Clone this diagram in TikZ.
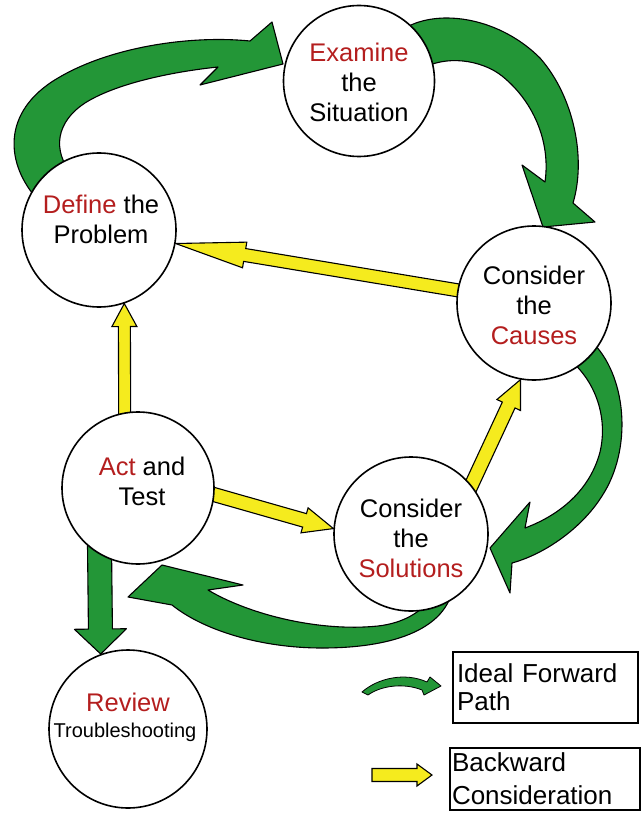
\documentclass[tikz,border=0pt]{standalone}
\usepackage{fontspec}
\setmainfont{Liberation Sans}
\usetikzlibrary{calc,backgrounds}
\definecolor{tgreen}{RGB}{35,150,55}
\definecolor{tyellow}{RGB}{245,235,30}
\definecolor{tred}{RGB}{180,30,30}
\tikzset{
  stage/.style={circle, draw=black, line width=1.6pt, fill=white, minimum size=#1, inner sep=0pt},
  stagetext/.style={align=center, font=\fontsize{25.5}{30}\selectfont, inner sep=0pt},
  greenarrow/.style={fill=tgreen, draw=black, line width=1.1pt, line join=round},
  yellowarrow/.style={fill=tyellow, draw=black, line width=1.1pt, line join=miter},
  legendbox/.style={draw=black, line width=1.5pt, align=left, inner ysep=0pt}
}
% #1 tail, #2 tip, #3 half shaft width, #4 half head width, #5 head length, #6 tail extension, #7 style
\newcommand\blockarrow[7]{%
  \coordinate (ba-t) at ($(#1)!-#6!(#2)$);
  \coordinate (ba-h) at ($(#2)!#5!(#1)$);
  \draw[#7] ($(ba-t)!#3!90:(#2)$) -- ($(ba-h)!#3!-90:(ba-t)$) -- ($(ba-h)!#4!-90:(ba-t)$)
    -- (#2) -- ($(ba-h)!#4!90:(ba-t)$) -- ($(ba-h)!#3!90:(ba-t)$) -- ($(ba-t)!#3!-90:(#2)$) -- cycle;
}
\begin{document}
\begin{tikzpicture}[x=1pt,y=-1pt]
\useasboundingbox (0,0) rectangle (642,813);

% stages
\node[stage=151pt] (examine) at (359,81) {};
\node[stage=154pt] (define) at (99,230) {};
\node[stage=154pt] (causes) at (534,303) {};
\node[stage=152pt] (act) at (138,488) {};
\node[stage=154pt] (solutions) at (411,534) {};
\node[stage=158pt] (review) at (128,729) {};

\node[stagetext] (examine-t) at (359,82) {\textcolor{tred}{Examine}\\the\\Situation};
\node[stagetext] (define-t) at (101,219) {\textcolor{tred}{Define} the\\Problem};
\node[stagetext] (causes-t) at (534,305) {Consider\\the\\\textcolor{tred}{Causes}};
\node[stagetext] (act-t) at (142,481) {\textcolor{tred}{Act} and\\Test};
\node[stagetext] (solutions-t) at (411,538) {Consider\\the\\\textcolor{tred}{Solutions}};
\node[stagetext, anchor=base] (review-t) at (128,711) {\textcolor{tred}{Review}};
\node[font=\fontsize{20}{24}\selectfont, inner sep=0pt, anchor=base] (review-s) at (125,737) {Troubleshooting};

\begin{scope}[on background layer]
  % green forward path
  \draw[greenarrow] (38,200) .. controls (6,165) and (0,112) .. (58,78) .. controls (110,47) and (190,35) .. (250,41)
    -- (272,22) -- (283,64) -- (200,85) -- (218,67)
    .. controls (170,72) and (115,84) .. (85,103) .. controls (56,122) and (52,150) .. (72,175) -- cycle;
  \draw[greenarrow] (405,28) .. controls (440,8) and (500,18) .. (540,58) .. controls (575,98) and (586,160) .. (573,203)
    -- (595,222) -- (543,227) -- (522,165) -- (545,182)
    .. controls (551,140) and (532,100) .. (502,76) .. controls (482,60) and (445,54) .. (420,70) -- cycle;
  \draw[greenarrow] (595,345) .. controls (627,380) and (632,450) .. (602,496) .. controls (582,528) and (545,554) .. (512,563)
    -- (510,593) -- (490,548) -- (530,502) -- (525,528)
    .. controls (560,515) and (590,490) .. (600,452) .. controls (608,418) and (596,382) .. (570,360) -- cycle;
  \draw[greenarrow] (452,592) .. controls (442,630) and (392,648) .. (322,648) .. controls (260,648) and (203,630) .. (172,605)
    -- (128,597) -- (162,565) -- (243,585) -- (208,590)
    .. controls (250,615) and (320,632) .. (378,626) .. controls (404,623) and (420,612) .. (430,600) -- cycle;
  \blockarrow{act.-120}{review.110}{12pt}{26pt}{25pt}{10pt}{greenarrow}
  % yellow backward consideration
  \blockarrow{causes}{define.-10}{6.5pt}{13pt}{70pt}{0pt}{yellowarrow}
  \blockarrow{act.100}{define.-71}{6pt}{12.5pt}{23pt}{8pt}{yellowarrow}
  \blockarrow{act.-5}{solutions.176}{7pt}{13pt}{30pt}{10pt}{yellowarrow}
  \blockarrow{solutions.39}{causes.-100}{7pt}{13pt}{28pt}{10pt}{yellowarrow}
\end{scope}

% legend
\node[legendbox, minimum width=185pt, minimum height=71pt, text width=177pt, inner xsep=4pt,
      font=\fontsize{26}{28}\selectfont] (lg1) at (545.5,687.5) {Ideal Forward\\Path};
\node[legendbox, minimum width=190pt, minimum height=62pt, text width=186pt, inner xsep=2pt,
      font=\fontsize{26}{33}\selectfont] (lg2) at (545,779) {Backward\\Consideration};
\draw[greenarrow, line width=0.8pt] (362,692) .. controls (378,678) and (405,672) .. (427,682)
  -- (430,677) -- (441,686) -- (424,695) -- (422,690)
  .. controls (405,683) and (382,685) .. (368,695) -- cycle;
\coordinate (ly1) at (372,775);
\coordinate (ly2) at (432,775);
\blockarrow{ly1}{ly2}{6.5pt}{11pt}{15pt}{0pt}{yellowarrow}
\end{tikzpicture}
\end{document}
